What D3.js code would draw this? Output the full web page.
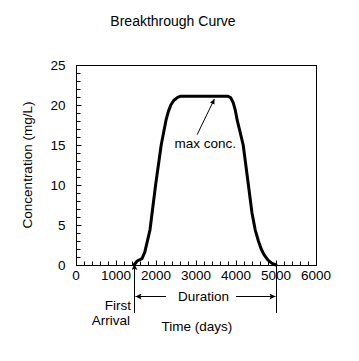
<!DOCTYPE html>
<html><head><meta charset="utf-8">
<script src="https://cdn.jsdelivr.net/npm/d3@7"></script>
<style>body{margin:0;background:#fff}text{font-family:"Liberation Sans",Arial,sans-serif;font-size:13.5px;fill:#000}</style>
</head><body><svg id="c" width="359" height="361"></svg>
<script>
const times = [1450, 1530, 1650, 1720, 1790, 1850, 1990, 2130, 2250, 2310, 2370, 2450, 2540, 2620, 2700, 3720, 3800, 3870, 3930, 3980, 4030, 4180, 4310, 4400, 4480, 4560, 4630, 4700, 4800, 4900, 5000];
const conc  = [0,    0.5,  0.8,  1.6,  3.1,  4.4,  10,   15,   18.1, 19.2, 20.0, 20.6, 20.95, 21.1, 21.1, 21.1, 21.1, 20.9, 20.3, 19.4, 18.1, 15,   10,   6.5,  4.4,  3.0,  2.0,  1.3,  0.6,  0.2,  0];
const xTicks = [0, 1000, 2000, 3000, 4000, 5000, 6000];
const yTicks = [0, 5, 10, 15, 20, 25];
const firstArrival = 1450, endTime = 5000;
const maxArrowFrom = [3030, 16.3], maxArrowTo = [3460, 20.75];
const maxLabelAt = [3230, 14.6];

const svg = d3.select("#c");
const x = d3.scaleLinear().domain([0, 6000]).range([76, 316]);
const y = d3.scaleLinear().domain([0, 25]).range([265, 65]);

const defs = svg.append("defs");
defs.append("marker").attr("id","ah").attr("viewBox","0 0 10 10").attr("refX",10).attr("refY",5)
  .attr("markerWidth",10).attr("markerHeight",6).attr("markerUnits","userSpaceOnUse").attr("orient","auto")
  .append("path").attr("d","M0,0L10,5L0,10L2,5Z").attr("fill","#000");
defs.append("marker").attr("id","ahs").attr("viewBox","0 0 10 10").attr("refX",10).attr("refY",5)
  .attr("markerWidth",8).attr("markerHeight",5).attr("markerUnits","userSpaceOnUse").attr("orient","auto")
  .append("path").attr("d","M0,0L10,5L0,10Z").attr("fill","#000");

// title
svg.append("text").attr("x",173).attr("y",26).attr("text-anchor","middle").style("font-size","14px").text("Breakthrough Curve");

// frame
svg.append("rect").attr("x",76.5).attr("y",65.5).attr("width",240).attr("height",200)
  .attr("fill","none").attr("stroke","#000").attr("stroke-width",1);

// ticks
const xMinor = d3.range(0, 6001, 200);
const yMinor = d3.range(0, 25.01, 1);
const gx = svg.append("g").attr("transform","translate(0,265.5)");
gx.selectAll("line").data(xMinor).join("line")
  .attr("x1",d=>Math.round(x(d))+0.5).attr("x2",d=>Math.round(x(d))+0.5)
  .attr("y1",0).attr("y2",d=>xTicks.includes(d)?-5:-4).attr("stroke","#000");
gx.selectAll("text").data(xTicks).join("text")
  .attr("x",d=>x(d)).attr("y",14).attr("text-anchor","middle").text(d=>d);
const gy = svg.append("g").attr("transform","translate(76.5,0)");
gy.selectAll("line").data(yMinor).join("line")
  .attr("y1",d=>Math.round(y(d))+0.5).attr("y2",d=>Math.round(y(d))+0.5)
  .attr("x1",0).attr("x2",d=>yTicks.includes(d)?5:4).attr("stroke","#000");
gy.selectAll("text").data(yTicks).join("text")
  .attr("x",-11).attr("y",d=>y(d)+5).attr("text-anchor","end").text(d=>d);

// axis titles
svg.append("text").attr("transform","translate(32,165) rotate(-90)").attr("text-anchor","middle").text("Concentration (mg/L)");
svg.append("text").attr("x",197).attr("y",331).attr("text-anchor","middle").text("Time (days)");

// curve
const pts = times.map((t,i)=>[t,conc[i]]);
svg.append("path").datum(pts)
  .attr("d", d3.line().x(d=>x(d[0])).y(d=>y(d[1])))
  .attr("fill","none").attr("stroke","#000").attr("stroke-width",3).attr("stroke-linejoin","round").attr("stroke-linecap","round");

// max conc annotation
svg.append("line").attr("x1",x(maxArrowFrom[0])).attr("y1",y(maxArrowFrom[1]))
  .attr("x2",x(maxArrowTo[0])).attr("y2",y(maxArrowTo[1])).attr("stroke","#000").attr("stroke-width",1)
  .attr("marker-end","url(#ahs)");
svg.append("text").attr("x",x(maxLabelAt[0])).attr("y",y(maxLabelAt[1])).attr("text-anchor","middle").text("max conc.");

// first arrival / duration
const xa = Math.round(x(firstArrival))+0.5, xe = Math.round(x(endTime))+0.5;
svg.append("line").attr("x1",xa).attr("x2",xa).attr("y1",313).attr("y2",y(0)-1)
  .attr("stroke","#000").attr("marker-end","url(#ah)");
svg.append("line").attr("x1",xe).attr("x2",xe).attr("y1",313).attr("y2",y(0)-2).attr("stroke","#000");
const yd = 296.5;
svg.append("line").attr("x1",166).attr("x2",xa+1).attr("y1",yd).attr("y2",yd).attr("stroke","#000").attr("marker-end","url(#ah)");
svg.append("line").attr("x1",236).attr("x2",xe-1).attr("y1",yd).attr("y2",yd).attr("stroke","#000").attr("marker-end","url(#ah)");
svg.append("text").attr("x",(xa+xe)/2-2).attr("y",301).attr("text-anchor","middle").text("Duration");
svg.append("text").attr("x",131).attr("y",310).attr("text-anchor","end").text("First");
svg.append("text").attr("x",130).attr("y",325).attr("text-anchor","end").text("Arrival");
</script></body></html>
